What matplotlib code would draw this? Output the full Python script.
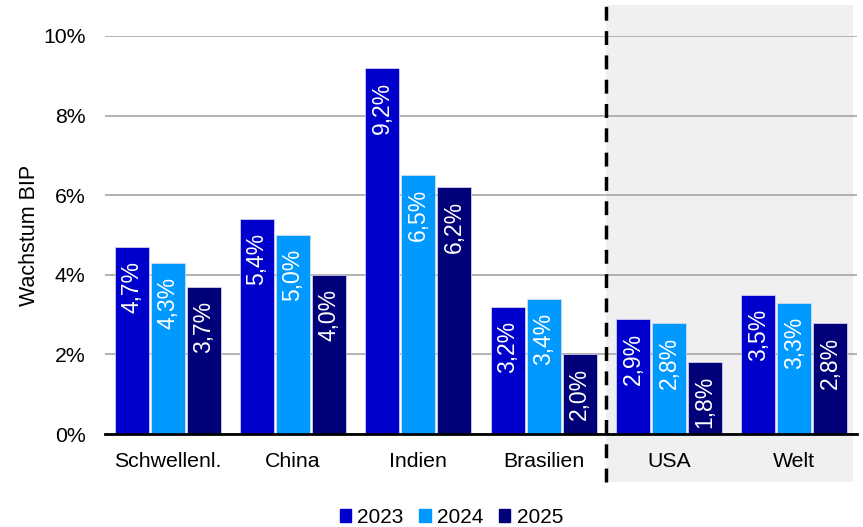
import matplotlib
matplotlib.use('Agg')
import matplotlib.pyplot as plt
from matplotlib.patches import Rectangle
from matplotlib.lines import Line2D
import numpy as np

plt.rcParams['font.family'] = ['Liberation Sans', 'DejaVu Sans']

Regions   = ['Schwellenl.', 'China', 'Indien', 'Brasilien', 'USA', 'Welt']
Years     = ['2023', '2024', '2025']
Growth23  = [4.7, 5.4, 9.2, 3.2, 2.9, 3.5]
Growth24  = [4.3, 5.0, 6.5, 3.4, 2.8, 3.3]
Growth25  = [3.7, 4.0, 6.2, 2.0, 1.8, 2.8]
YTicks    = [0, 2, 4, 6, 8, 10]

Colors    = ['#0000CD', '#0099FF', '#000078']
barWidth  = 0.272
barStep   = 0.288

fig = plt.figure(figsize=(8.63, 5.27), dpi=100)
ax = fig.add_axes([105/863, 93/527, 752/863, 398/527])

x = np.arange(len(Regions))

# grey shading behind USA / Welt, reaching below the axis
shade = Rectangle((3.5, -0.1206), 1.97, 1.199, transform=ax.get_xaxis_transform(),
                  facecolor='#F0F0F0', edgecolor='none', clip_on=False, zorder=0)
ax.add_patch(shade)

for i, vals in enumerate([Growth23, Growth24, Growth25]):
	pos = x + (i - 1)*barStep
	bars = ax.bar(pos, vals, width=barWidth, color=Colors[i], edgecolor='#E0E0F0',
	              linewidth=0.5, zorder=3)
	for b, v in zip(bars, vals):
		ax.annotate(('%.1f%%' % v).replace('.', ','), (b.get_x() + b.get_width()/2, v),
		            xytext=(0, -10), textcoords='offset points', rotation=90,
		            ha='center', va='top', color='white', fontsize=16.5, zorder=4)

ax.set_xlim(-0.5, 5.5)
ax.set_ylim(0, 10)
ax.set_yticks(YTicks)
ax.set_yticklabels(['%d%%' % t for t in YTicks])
ax.set_xticks(x)
ax.set_xticklabels(Regions)
ax.tick_params(axis='both', length=0, labelsize=15.3)
ax.tick_params(axis='y', pad=14)
ax.tick_params(axis='x', pad=13)
ax.grid(axis='y', color='#A6A6A6', linewidth=1.2, zorder=1)
ax.set_axisbelow(True)
ax.patch.set_alpha(0)
for s in ['top', 'right', 'left']:
	ax.spines[s].set_visible(False)
ax.spines['bottom'].set_linewidth(2)
ax.spines['bottom'].set_zorder(5)
ax.set_ylabel('Wachstum BIP', fontsize=15.5, labelpad=2)

# dashed separator
sep = Line2D([3.5, 3.5], [-0.1206, 1.078], transform=ax.get_xaxis_transform(),
             color='black', linewidth=2.5, linestyle=(0, (4, 3)), clip_on=False, zorder=6)
ax.add_line(sep)

handles = [Rectangle((0, 0), 1, 1, color=c) for c in Colors]
fig.legend(handles, Years, loc='lower center', bbox_to_anchor=(0.523, -0.035), ncol=3,
           frameon=False, fontsize=15, handlelength=0.55, handleheight=0.55,
           handletextpad=0.3, columnspacing=0.75)

plt.savefig('out.png', dpi=100)
